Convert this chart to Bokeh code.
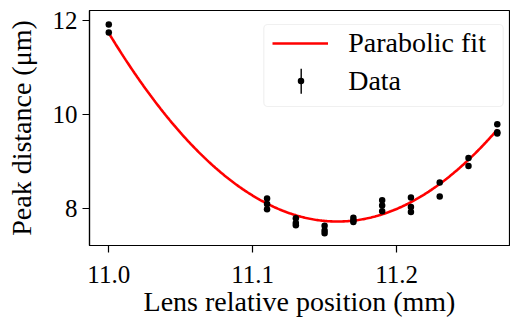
import numpy as np
from bokeh.plotting import figure
from bokeh.models import (Range1d, FixedTicker, NumeralTickFormatter, Legend,
                          LegendItem, BoxAnnotation, ColumnDataSource)
from bokeh.embed import file_html
from bokeh.resources import INLINE

# ---- data ----
lens_position = [11.00, 11.00,
                 11.11, 11.11, 11.11,
                 11.13, 11.13, 11.13,
                 11.15, 11.15, 11.15,
                 11.17, 11.17, 11.17,
                 11.19, 11.19, 11.19,
                 11.21, 11.21, 11.21,
                 11.23, 11.23,
                 11.25, 11.25,
                 11.27, 11.27, 11.27]
peak_distance = [11.91, 11.74,
                 8.21, 8.09, 7.98,
                 7.79, 7.69, 7.64,
                 7.63, 7.53, 7.47,
                 7.80, 7.74, 7.71,
                 8.17, 8.06, 7.94,
                 8.23, 8.03, 7.92,
                 8.55, 8.25,
                 9.07, 8.90,
                 9.79, 9.62, 9.59]
# parabolic fit parameters (vertex form)
fit_vertex_x = 11.159
fit_vertex_y = 7.72
fit_curvature = 158.5
x_ticks = [11.0, 11.1, 11.2]
y_ticks = [8, 10, 12]
x_label = "Lens relative position (mm)"
y_label = "Peak distance (μm)"
fit_label = "Parabolic fit"
data_label = "Data"

fit_x = np.linspace(min(lens_position), max(lens_position), 300)
fit_y = fit_curvature * (fit_x - fit_vertex_x) ** 2 + fit_vertex_y

FONT = "Liberation Serif"

p = figure(width=510, height=320, output_backend="svg", toolbar_location=None,
           x_range=Range1d(10.9866, 11.2785), y_range=Range1d(7.21, 12.207),
           min_border_left=89, min_border_right=1, min_border_top=10,
           min_border_bottom=75)
p.background_fill_color = "white"
p.border_fill_color = "white"
p.outline_line_color = "black"
p.outline_line_width = 1.2
p.xgrid.visible = False
p.ygrid.visible = False

for ax in (p.xaxis[0], p.yaxis[0]):
    ax.axis_line_color = "black"
    ax.axis_line_width = 1.2
    ax.major_tick_in = 0
    ax.major_tick_out = 7
    ax.major_tick_line_color = "black"
    ax.major_tick_line_width = 1.2
    ax.minor_tick_line_color = None
    ax.major_label_text_font = FONT
    ax.major_label_text_font_size = "25px"
    ax.major_label_text_color = "black"
    ax.axis_label_text_font = FONT
    ax.axis_label_text_font_size = "28px"
    ax.axis_label_text_font_style = "normal"
    ax.axis_label_text_color = "black"

p.xaxis.ticker = FixedTicker(ticks=x_ticks)
p.xaxis.formatter = NumeralTickFormatter(format="0.0")
p.yaxis.ticker = FixedTicker(ticks=y_ticks)
p.xaxis.axis_label = x_label
p.yaxis.axis_label = y_label
p.xaxis.major_label_standoff = 13
p.xaxis.axis_label_standoff = 0
p.yaxis.major_label_standoff = 5
p.yaxis.axis_label_standoff = 13

src = ColumnDataSource(dict(x=lens_position, y=peak_distance))

fit_r = p.line(fit_x, fit_y, line_color="#ff0000", line_width=2.6)
dot_r = p.scatter("x", "y", source=src, marker="dot", size=26,
                  line_color="black", fill_color="black")

# legend frame
frame_box = BoxAnnotation(left=174.3, right=413.7, top=221, bottom=139,
                          left_units="screen", right_units="screen",
                          top_units="screen", bottom_units="screen",
                          fill_color="white", fill_alpha=0.8,
                          line_color="#cccccc", line_width=1.2, border_radius=4)
p.add_layout(frame_box)
# vertical error-bar symbol of the "Data" legend entry
err_key = BoxAnnotation(left=211.0, right=212.4, top=176.7, bottom=151.7,
                        left_units="screen", right_units="screen",
                        top_units="screen", bottom_units="screen",
                        fill_color="black", fill_alpha=1.0, line_color=None)
p.add_layout(err_key)

leg_fit = Legend(items=[LegendItem(label=fit_label, renderers=[fit_r])],
                 location=(183.3, 185.7), glyph_width=56, glyph_height=32,
                 label_height=32, label_standoff=20, padding=0, margin=0,
                 border_line_color=None, background_fill_alpha=0,
                 label_text_font=FONT, label_text_font_size="28px",
                 label_text_color="black")
leg_data = Legend(items=[LegendItem(label=data_label, renderers=[dot_r])],
                  location=(179.2, 131.8), glyph_width=65, glyph_height=65,
                  label_standoff=15, padding=0, margin=0,
                  border_line_color=None, background_fill_alpha=0,
                  label_text_font=FONT, label_text_font_size="28px",
                  label_text_color="black")
p.add_layout(leg_fit)
p.add_layout(leg_data)

open("out.html", "w").write(file_html(p, INLINE))
